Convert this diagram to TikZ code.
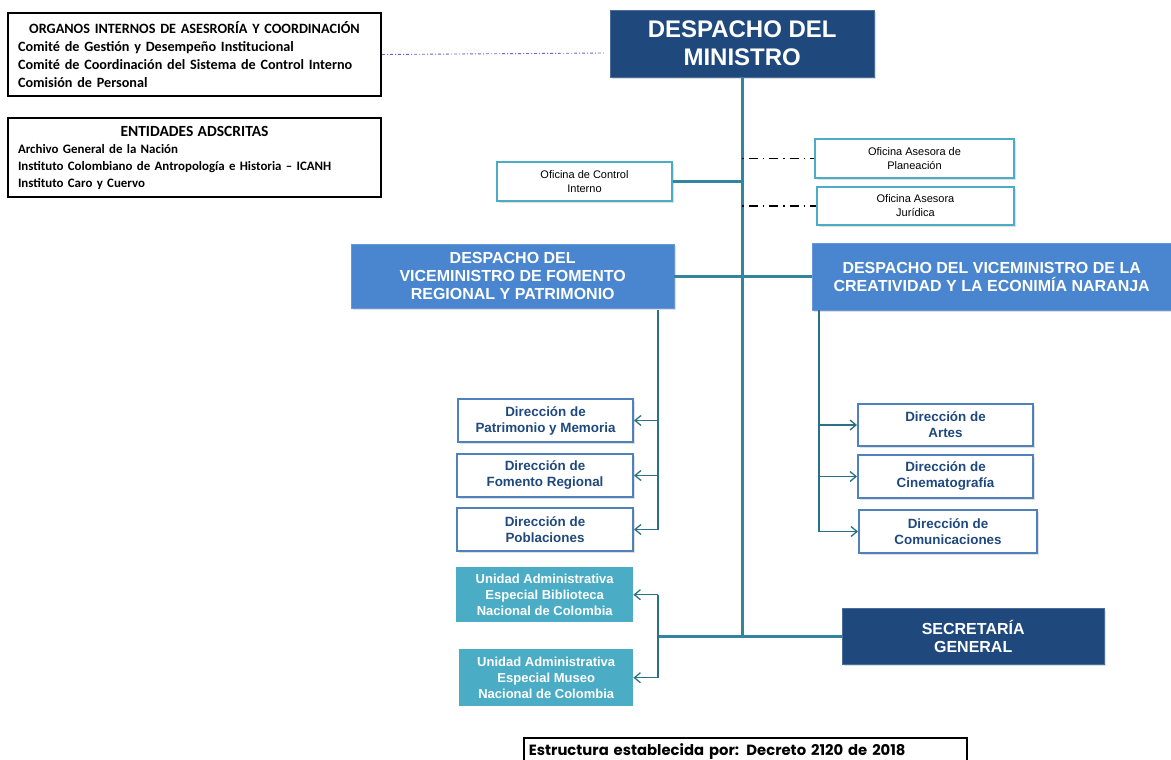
\documentclass[tikz,border=0pt]{standalone}
\usepackage{fontspec}
\setmainfont{Liberation Sans}
\newfontfamily\calfont{Carlito}
\newfontfamily\gothfont{Poppins}
\usetikzlibrary{arrows.meta, positioning, shadows}
\definecolor{mindark}{HTML}{1F497D}
\definecolor{vmblue}{HTML}{4A86D0}
\definecolor{offteal}{HTML}{4BACC6}
\definecolor{lineteal}{HTML}{31859C}
\definecolor{dirblue}{HTML}{4F81BD}
\definecolor{dirtext}{HTML}{1F497D}
\definecolor{orgline}{HTML}{6666CC}
\tikzset{
  boxshadow/.style={drop shadow={opacity=0.25, shadow xshift=2pt, shadow yshift=-2pt}},
  orgbox/.style={rectangle, draw=black, line width=2pt, anchor=north west, inner xsep=10pt, align=left, font=\calfont\bfseries\fontsize{14.2}{18}\selectfont},
  minbox/.style={rectangle, anchor=north west, fill=mindark, draw=mindark!80!white, text=white, align=center, boxshadow, font=\bfseries\fontsize{24}{28}\selectfont},
  offbox/.style={rectangle, anchor=north west, fill=white, draw=offteal, line width=2pt, align=center, boxshadow, font=\fontsize{11}{14}\selectfont},
  vmbox/.style={rectangle, anchor=north west, fill=vmblue, draw=vmblue!85!white, text=white, align=center, boxshadow, font=\bfseries\fontsize{16}{18}\selectfont},
  dirbox/.style={rectangle, anchor=north west, fill=white, draw=dirblue, line width=2pt, text=dirtext, align=center, boxshadow, font=\bfseries\fontsize{13.4}{16}\selectfont},
  unibox/.style={rectangle, anchor=north west, fill=offteal, text=white, align=center, font=\bfseries\fontsize{13}{16}\selectfont},
  trunk/.style={draw=lineteal, line width=3.2pt},
  branch/.style={draw=lineteal!85!black, line width=1.3pt},
  branchto/.style={branch, -{Straight Barb[length=6pt, width=10pt]}},
  advisory/.style={draw=black, line width=1.5pt, dash pattern=on 1.5pt off 5pt on 9pt off 5pt},
}
\begin{document}
\begin{tikzpicture}[x=1pt, y=-1pt]
\useasboundingbox (0,0) rectangle (1171,760);
% recuadros de la izquierda
\node[orgbox, minimum width=373, minimum height=83, text width=353] (org) at (7,12)
  {\makebox[\linewidth]{ORGANOS INTERNOS DE ASESRORÍA Y COORDINACIÓN}\\
   Comité de Gestión y Desempeño Institucional\\
   Comité de Coordinación del Sistema de Control Interno\\
   Comisión de Personal};
\node[orgbox, minimum width=373, minimum height=79, text width=353, font=\calfont\bfseries\fontsize{12.9}{17}\selectfont] (ads) at (7,117)
  {\makebox[\linewidth]{\fontsize{15.5}{17}\selectfont ENTIDADES ADSCRITAS}\\
   Archivo General de la Nación\\
   Instituto Colombiano de Antropología e Historia – ICANH\\
   Instituto Caro y Cuervo};
\coordinate (orgend) at (604,53);

% despachos
\node[minbox, minimum width=264, minimum height=67] (min) at (610,10) {DESPACHO DEL\\MINISTRO};
\node[offbox, minimum width=175, minimum height=39] (ctrl) at (496,161) {Oficina de Control\\Interno};
\node[offbox, minimum width=199, minimum height=39] (plan) at (814,138) {Oficina Asesora de\\Planeación};
\node[offbox, minimum width=197, minimum height=38] (jur) at (816,186) {Oficina Asesora\\Jurídica};
\node[vmbox, minimum width=323, minimum height=64] (vfr) at (351,244) {DESPACHO DEL\\VICEMINISTRO DE FOMENTO\\REGIONAL Y PATRIMONIO};
\node[vmbox, minimum width=359, minimum height=67] (vcr) at (812,243) {DESPACHO DEL VICEMINISTRO DE LA\\CREATIVIDAD Y LA ECONIMÍA NARANJA};

% direcciones
\node[dirbox, minimum width=175, minimum height=43] (pat) at (457,398) {Dirección de\\Patrimonio y Memoria};
\node[dirbox, minimum width=176, minimum height=43] (fom) at (456,453) {Dirección de\\Fomento Regional};
\node[dirbox, minimum width=176, minimum height=43] (pob) at (456,507) {Dirección de\\Poblaciones};
\node[dirbox, minimum width=175, minimum height=42] (art) at (857,403) {Dirección de\\Artes};
\node[dirbox, minimum width=175, minimum height=43] (cin) at (857,454) {Dirección de\\Cinematografía};
\node[dirbox, minimum width=178, minimum height=43] (com) at (858,509) {Dirección de\\Comunicaciones};

% unidades y secretaria
\node[unibox, minimum width=177, minimum height=55] (bib) at (456,567) {Unidad Administrativa\\Especial Biblioteca\\Nacional de Colombia};
\node[unibox, minimum width=174, minimum height=57] (mus) at (459,649) {Unidad Administrativa\\Especial Museo\\Nacional de Colombia};
\node[minbox, minimum width=262, minimum height=56, font=\bfseries\fontsize{16}{18}\selectfont] (sec) at (842,608) {SECRETARÍA\\GENERAL};

\node[draw=black, line width=1.8pt, anchor=north west, minimum width=443, minimum height=27, text width=433, inner xsep=5pt, inner ysep=2pt, align=left, font=\gothfont\bfseries\fontsize{14.8}{16}\selectfont] (dec) at (523,737)
  {Estructura establecida por: Decreto 2120 de 2018};

\coordinate (lb) at (658,310);
\coordinate (rb) at (819,310);
\coordinate (ub) at (658,636);

% conectores
\draw[orgline, line width=0.9pt, dash pattern=on 3pt off 2pt on 1pt off 2pt] (org.east) -- (orgend);
\draw[trunk] (min.south) -- (min.south |- sec.west);
\draw[trunk] (ctrl.east) -- (ctrl.east -| min.south);
\draw[advisory] (min.south |- plan.west) -- (plan.west);
\draw[advisory] (min.south |- jur.west) -- (jur.west);
\draw[trunk] (vfr.east) -- (vfr.east -| vcr.west);
\draw[trunk] (sec.west) -- (sec.west -| ub);
\draw[branch] (lb) -- (lb |- pob.east);
\draw[branchto] (lb |- pat.east) -- (pat.east);
\draw[branchto] (lb |- fom.east) -- (fom.east);
\draw[branchto] (lb |- pob.east) -- (pob.east);
\draw[branch] (rb) -- (rb |- com.west);
\draw[branchto] (rb |- art.west) -- (art.west);
\draw[branchto] (rb |- cin.west) -- (cin.west);
\draw[branchto] (rb |- com.west) -- (com.west);
\draw[branch] (ub |- bib.east) -- (ub |- mus.east);
\draw[branchto] (ub |- bib.east) -- (bib.east);
\draw[branchto] (ub |- mus.east) -- (mus.east);
\end{tikzpicture}
\end{document}
